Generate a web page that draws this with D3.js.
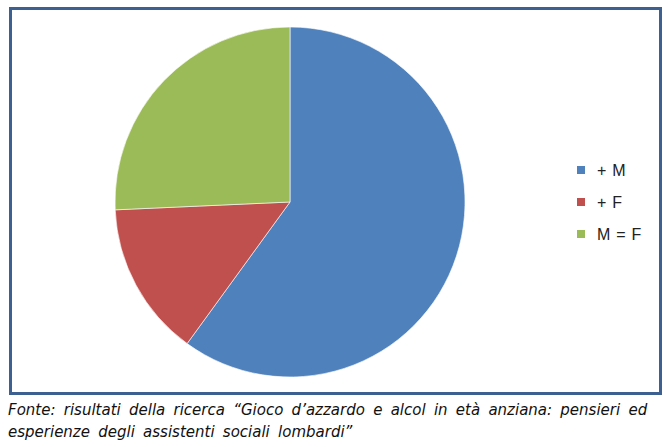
<!DOCTYPE html>
<html>
<head>
<meta charset="utf-8">
<script src="https://cdnjs.cloudflare.com/ajax/libs/d3/7.8.5/d3.min.js"></script>
<style>
  html, body { margin: 0; padding: 0; background: #fff; }
  svg { display: block; }
</style>
</head>
<body>
<svg id="chart" width="672" height="447"></svg>
<script>
// data (counts: 42 / 10 / 18 -> 60% / 14% / 26%)
var categories = ["+ M", "+ F", "M = F"];
var values = [42, 10, 18];
var colors = ["#4F81BD", "#C0504D", "#9BBB59"];
var caption = [
  "Fonte: risultati della ricerca \u201cGioco d\u2019azzardo e alcol in et\u00e0 anziana: pensieri ed",
  "esperienze degli assistenti sociali lombardi\u201d"
];

var svg = d3.select("#chart");

// frame
svg.append("rect")
  .attr("x", 10.5).attr("y", 8.5)
  .attr("width", 650).attr("height", 385)
  .attr("fill", "#fff")
  .attr("stroke", "#3C6190")
  .attr("stroke-width", 3);

var cx = 290, cy = 202, r = 175;

var pie = d3.pie().sort(null).value(function(d){ return d; });
var arc = d3.arc().innerRadius(0).outerRadius(r);

var g = svg.append("g").attr("transform", "translate(" + cx + "," + cy + ")");
g.selectAll("path")
  .data(pie(values))
  .enter()
    .append("path")
    .attr("d", arc)
    .attr("fill", function(d, i){ return colors[i]; })
    .attr("stroke", "#fff")
    .attr("stroke-width", 0.6);

// legend
var legend = svg.append("g").attr("transform", "translate(577,170)");
var rows = legend.selectAll("g")
  .data(categories)
  .enter()
    .append("g")
    .attr("transform", function(d, i){ return "translate(0," + (i * 32) + ")"; });
rows.append("rect")
  .attr("x", 0).attr("y", -4)
  .attr("width", 8).attr("height", 8)
  .attr("fill", function(d, i){ return colors[i]; });
rows.append("text")
  .attr("x", 20).attr("y", 5.5)
  .attr("font-family", "'Liberation Sans', sans-serif")
  .attr("font-size", 16)
  .attr("word-spacing", 1.5)
  .attr("fill", "#222")
  .text(function(d){ return d; });

// source caption
svg.selectAll("text.caption")
  .data(caption)
  .enter()
    .append("text")
    .attr("class", "caption")
    .attr("x", 8)
    .attr("y", function(d, i){ return 415 + i * 22; })
    .attr("font-family", "'DejaVu Sans', sans-serif")
    .attr("font-style", "italic")
    .attr("font-size", 15)
    .attr("word-spacing", 3.5)
    .attr("fill", "#111")
    .text(function(d){ return d; });
</script>
</body>
</html>
